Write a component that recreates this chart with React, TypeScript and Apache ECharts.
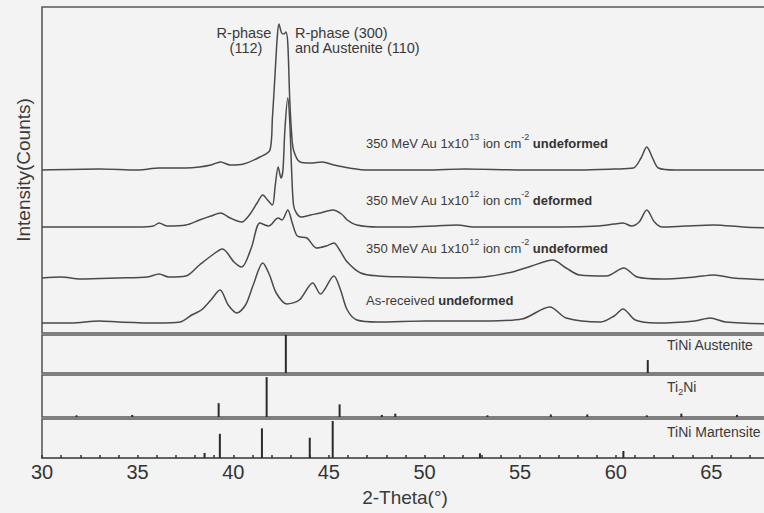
import React, { useEffect, useRef } from "react";
import * as echarts from "echarts";

// 2-Theta (deg) vs intensity (arbitrary counts, offset stacked)
const trace1013Undeformed: [number, number][] = [
  [30, 163], [33, 164], [35, 163], [36.1, 165], [37.5, 165], [38.2, 166], [38.8, 168], [39.3, 171],
  [39.8, 168], [40.5, 169], [41.35, 176], [41.875, 183], [42.0, 215], [42.13, 256], [42.25, 295],
  [42.34, 309], [42.48, 300], [42.6, 299], [42.7, 301], [42.8, 290], [42.9, 235], [43.0, 200],
  [43.1, 183], [43.44, 171], [44.0, 170], [44.6, 171], [45.2, 168], [46, 165], [47, 163], [50, 163],
  [52, 164], [55, 163], [58, 163], [59.8, 164], [60.8, 165], [61.2, 175], [61.5, 186], [61.8, 175],
  [62.1, 165], [63, 163], [65, 163], [68, 163]
];
const trace1012Deformed: [number, number][] = [
  [30, 106], [33, 106], [35, 106], [35.8, 107], [36.1, 110], [36.5, 107], [37.5, 108], [38.2, 113],
  [38.8, 117], [39.3, 120], [39.8, 115], [40.4, 111], [40.8, 118], [41.2, 130], [41.5, 138],
  [41.75, 133], [42.0, 128], [42.15, 148], [42.3, 166], [42.45, 155], [42.55, 163], [42.65, 203],
  [42.8, 235], [42.9, 213], [43.0, 163], [43.1, 128], [43.25, 120], [43.5, 116], [44.0, 118],
  [44.5, 120], [45.15, 123], [45.6, 119], [45.9, 113], [46.4, 108], [47.5, 106], [49, 106],
  [50.5, 107], [51.6, 108], [52.5, 106], [55, 106], [57, 106], [59, 107], [59.8, 109], [60.26, 110],
  [60.7, 107], [61.1, 111], [61.5, 123], [61.9, 111], [62.3, 106], [63.5, 107], [65, 108],
  [66.5, 106], [68, 105]
];
const trace1012Undeformed: [number, number][] = [
  [30, 55], [31, 56], [32, 54], [34, 55], [35.5, 56], [36.1, 59], [36.6, 56], [37.5, 57], [38.2, 68],
  [38.8, 77], [39.4, 84], [40.0, 71], [40.4, 66], [40.9, 85], [41.35, 110], [41.8, 107], [42.3, 115],
  [42.5, 113], [42.8, 123], [43.05, 109], [43.3, 97], [43.8, 95], [44.3, 85], [44.8, 87], [45.2, 90],
  [45.5, 83], [45.9, 71], [46.6, 60], [47.5, 57], [49, 56], [51, 55], [53, 56], [54.5, 61],
  [55.5, 67], [56.6, 73], [57.3, 65], [58, 58], [59.4, 57], [60.3, 65], [61.0, 56], [62.3, 54],
  [64, 56], [65, 58], [66, 55], [68, 53]
];
const traceAsReceived: [number, number][] = [
  [30, 10], [31.5, 10], [33, 12], [34, 11], [36, 10], [37.2, 11], [37.8, 18], [38.3, 23], [38.8, 33],
  [39.27, 43], [39.7, 28], [40.15, 20], [40.6, 28], [41.0, 48], [41.5, 70], [41.85, 58], [42.2, 40],
  [42.75, 29], [43.4, 33], [44.1, 50], [44.5, 39], [45.2, 57], [45.55, 43], [45.9, 23], [46.4, 13],
  [47.5, 11], [50, 12], [53, 12], [55, 14], [56.45, 26], [57.3, 15], [59.1, 11], [59.8, 17],
  [60.26, 24], [60.9, 13], [62, 10], [64, 12], [64.8, 15], [65.6, 11], [68, 9]
];

// reference patterns: [2-Theta, relative intensity]
const refAustenite: [number, number][] = [[42.7, 1.0], [61.55, 0.34]];
const refTi2Ni: [number, number][] = [
  [31.8, 0.04], [34.7, 0.05], [39.2, 0.33], [41.7, 0.95], [45.5, 0.3], [47.7, 0.05], [48.4, 0.08],
  [53.2, 0.04], [56.5, 0.06], [58.4, 0.06], [61.5, 0.04], [63.3, 0.08], [66.2, 0.05]
];
const refMartensite: [number, number][] = [
  [38.5, 0.13], [39.3, 0.62], [41.5, 0.76], [44.0, 0.52], [45.2, 0.95], [52.9, 0.12], [60.4, 0.18]
];

const xTickValues = [30, 35, 40, 45, 50, 55, 60, 65];

const FONT = "'Liberation Sans', Arial, Helvetica, sans-serif";
const LINE = "#4a4a4a";
const BORDER = "#5a5a5a";

export default function App() {
  const ref = useRef<HTMLDivElement>(null);
  useEffect(() => {
    if (!ref.current) return;
    const chart = echarts.init(ref.current, null, { renderer: "svg" });
    const grids = [
      { left: 42, right: 0, top: 7, height: 326 },
      { left: 42, right: 0, top: 335, height: 38 },
      { left: 42, right: 0, top: 375, height: 42 },
      { left: 42, right: 0, top: 419, height: 39 },
    ].map((g) => ({ ...g, show: true, borderColor: BORDER, borderWidth: 1.6, backgroundColor: "transparent" }));

    const xAxes = grids.map((_, i) => ({
      type: "value",
      gridIndex: i,
      min: 30,
      max: 70,
      interval: 5,
      show: i === 3,
      splitLine: { show: false },
      axisLine: { show: i === 3, lineStyle: { color: BORDER, width: 1.6 } },
      axisTick: { show: i === 3, inside: true, length: 3, lineStyle: { color: "#333", width: 1.5 } },
      minorTick: { show: i === 3, splitNumber: 5, length: 3, lineStyle: { color: "#333", width: 1.5 } },
      axisLabel: {
        show: i === 3,
        fontSize: 20,
        color: "#333",
        fontFamily: FONT,
        margin: 4,
        formatter: (v: number) => (xTickValues.includes(v) ? String(v) : ""),
      },
    }));
    const yAxes = grids.map((_, i) => ({
      type: "value",
      gridIndex: i,
      min: 0,
      max: i === 0 ? 326 : 1,
      show: false,
      splitLine: { show: false },
    }));

    const lineSeries = (data: [number, number][]) => ({
      type: "line",
      xAxisIndex: 0,
      yAxisIndex: 0,
      data,
      smooth: 0.3,
      showSymbol: false,
      lineStyle: { color: LINE, width: 1.5 },
    });
    const barSeries = (data: [number, number][], idx: number) => ({
      type: "bar",
      xAxisIndex: idx,
      yAxisIndex: idx,
      data,
      barWidth: 2,
      itemStyle: { color: "#2a2a2a" },
    });

    const rich = {
      n: { fontSize: 13, fontFamily: FONT, fill: "#3a3a3a", color: "#3a3a3a", lineHeight: 17, verticalAlign: "bottom" },
      s: { fontSize: 9, fontFamily: FONT, fill: "#3a3a3a", color: "#3a3a3a", lineHeight: 9, verticalAlign: "top" },
      b: { fontSize: 13, fontFamily: FONT, fontWeight: "bold", fill: "#333", color: "#333", lineHeight: 17, verticalAlign: "bottom" },
    };
    const richText = (x: number, y: number, text: string) => ({
      type: "text",
      x,
      y,
      style: { text, rich, verticalAlign: "middle", align: "left", font: `13px ${FONT}` },
    });
    const plain = (x: number, y: number, text: string, size = 12, align = "left", rotation = 0) => ({
      type: "text",
      x,
      y,
      rotation,
      style: { text, fill: "#3a3a3a", font: `${size}px ${FONT}`, align, verticalAlign: "middle" },
    });

    chart.setOption({
      animation: false,
      backgroundColor: "#f3f3f3",
      grid: grids,
      xAxis: xAxes,
      yAxis: yAxes,
      series: [
        lineSeries(trace1013Undeformed),
        lineSeries(trace1012Deformed),
        lineSeries(trace1012Undeformed),
        lineSeries(traceAsReceived),
        barSeries(refAustenite, 1),
        barSeries(refTi2Ni, 2),
        barSeries(refMartensite, 3),
      ],
      graphic: [
        richText(366, 141, "{n|350 MeV Au 1x10}{s|13}{n| ion cm}{s|-2}{n| }{b|undeformed}"),
        richText(366, 198, "{n|350 MeV Au 1x10}{s|12}{n| ion cm}{s|-2}{n| }{b|deformed}"),
        richText(366, 246, "{n|350 MeV Au 1x10}{s|12}{n| ion cm}{s|-2}{n| }{b|undeformed}"),
        richText(366, 298, "{n|As-received }{b|undeformed}"),
        plain(244, 33, "R-phase", 14.5, "center"),
        plain(246, 48, "(112)", 14.5, "center"),
        plain(295, 33, "R-phase (300)", 14.5),
        plain(295, 48, "and Austenite (110)", 14.5),
        plain(667, 345, "TiNi Austenite", 14),
        {
          type: "text",
          x: 667,
          y: 388,
          style: {
            text: "{n|Ti}{d|2}{n|Ni}",
            rich: {
              n: { fontSize: 14, fontFamily: FONT, fill: "#3a3a3a", lineHeight: 17, verticalAlign: "top" },
              d: { fontSize: 9, fontFamily: FONT, fill: "#3a3a3a", lineHeight: 9, verticalAlign: "bottom" },
            },
            verticalAlign: "middle",
            font: `14px ${FONT}`,
          },
        },
        plain(667, 432, "TiNi Martensite", 14),
        plain(23, 170, "Intensity(Counts)", 19, "center", Math.PI / 2),
        plain(405, 497, "2-Theta(°)", 19, "center"),
      ],
    });
    return () => chart.dispose();
  }, []);
  return <div ref={ref} style={{ position: "fixed", left: 0, top: 0, width: 810, height: 513 }} />;
}
